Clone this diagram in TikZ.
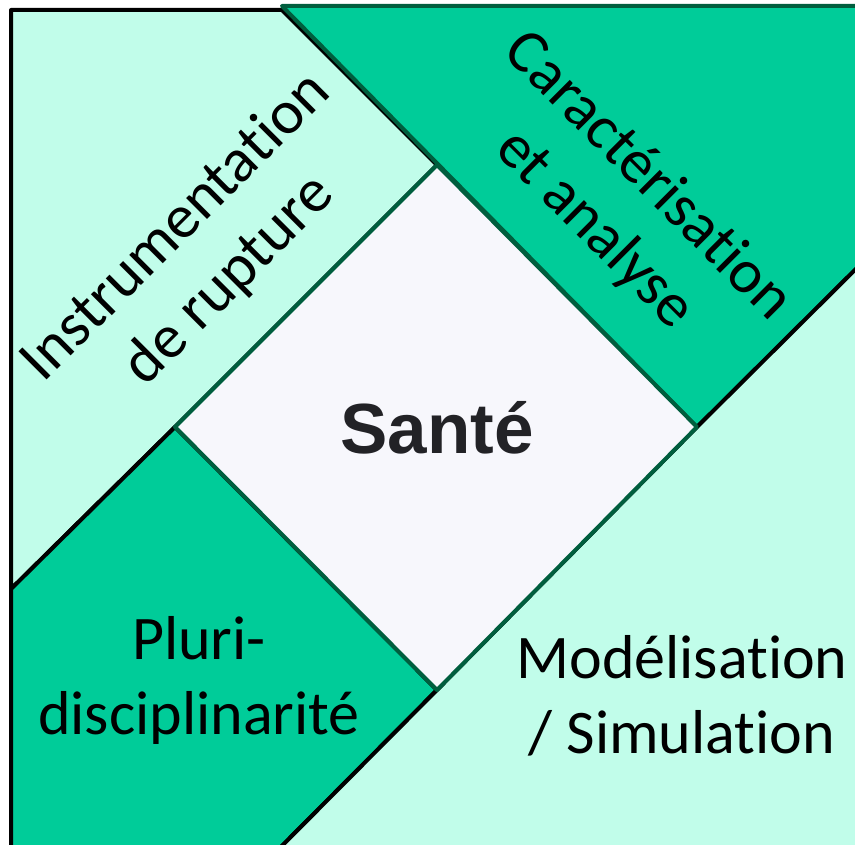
\documentclass[tikz,border=0pt]{standalone}
\usepackage{fontspec}
\setmainfont{Carlito}[Ligatures=NoCommon]
\newfontfamily\santefont{Liberation Sans}
\definecolor{mintlight}{HTML}{C1FDEA}
\definecolor{mintdark}{HTML}{00CC99}
\definecolor{edgegreen}{HTML}{005E3E}
\definecolor{centrefill}{HTML}{F7F7FC}
\definecolor{santetext}{HTML}{222226}
\begin{document}
\begin{tikzpicture}
[x=1pt,y=-1pt,
  lightdecorate/.style={fill=mintlight,draw=black,line width=4pt,line join=round},%
  darkdecorate/.style={fill=mintdark,draw=black,line width=4pt,line join=round},%
  centredecorate/.style={fill=centrefill,draw=edgegreen,line width=4pt,line join=round},%
  labeldecorate/.style={align=center,inner sep=0pt,font=\fontsize{62}{75}\selectfont}]
\useasboundingbox (0,0) rectangle (855,845);
\clip (0,0) rectangle (855,845);
% corners of the diamond
\coordinate (top) at (437,165);
\coordinate (right) at (697,427);
\coordinate (bottom) at (437,690);
\coordinate (left) at (175,427);
% points on the frame
\coordinate (frametl) at (11,10);
\coordinate (framet) at (282,10);
\coordinate (framel) at (11,589);
\coordinate (framebl) at (11,870);
\coordinate (frameb) at (258,870);
\coordinate (darkt) at (282,6);
\coordinate (darktr) at (880,6);
\coordinate (darkr) at (880,245);
\coordinate (framebr) at (880,870);
% regions
\draw[lightdecorate] (frametl) -- (framet) -- (top) -- (left) -- (framel) -- cycle;
\draw[darkdecorate,draw=edgegreen] (darkt) -- (darktr) -- (darkr) -- (right) -- cycle;
\draw[darkdecorate] (framel) -- (left) -- (bottom) -- (frameb) -- (framebl) -- cycle;
\draw[lightdecorate] (bottom) -- (right) -- (darkr) -- (framebr) -- (frameb) -- cycle;
\draw[centredecorate] (top) -- (right) -- (bottom) -- (left) -- cycle;
% labels
\node (sante) at (437,453) [anchor=base,inner sep=0pt,text=santetext,
  font=\santefont\bfseries\fontsize{71}{80}\selectfont] {Santé};
\node (instrumentation) at (203,254) [labeldecorate,rotate=45]
  {Instrumentation\\de rupture};
\node (caracterisation) at (621,203) [labeldecorate,rotate=-45]
  {Caractérisation\\et analyse};
\node (pluri) at (199,680) [labeldecorate] {Pluri-\\disciplinarité};
\node (modelisation) at (682,696) [labeldecorate] {Modélisation\\/ Simulation};
\end{tikzpicture}
\end{document}
